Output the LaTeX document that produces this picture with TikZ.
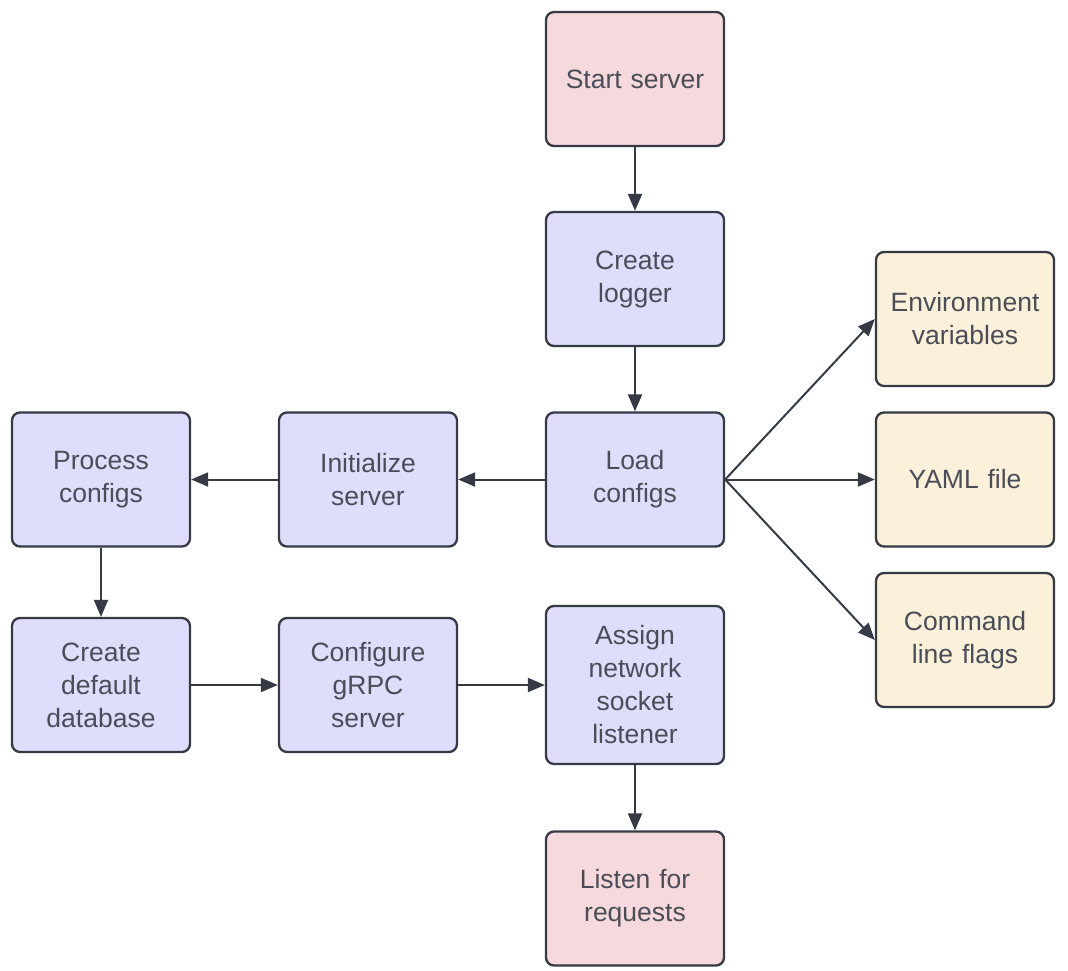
\documentclass[tikz,border=0pt]{standalone}
\usepackage{fontspec}
\setmainfont{Liberation Sans}
\usetikzlibrary{arrows.meta}
\definecolor{pinkfill}{HTML}{F6D9DC}
\definecolor{bluefill}{HTML}{DEDEFC}
\definecolor{yellowfill}{HTML}{FBF1DA}
\definecolor{edge}{HTML}{363A45}
\definecolor{txt}{HTML}{4A4D57}
\tikzset{
  box/.style={draw=edge, line width=2.3pt, rounded corners=8pt, minimum width=178pt, minimum height=134pt,
    text width=170pt, align=center, text=txt, font=\fontsize{26.5}{33}\selectfont, inner sep=0pt},
  pinkbox/.style={box, fill=pinkfill},
  bluebox/.style={box, fill=bluefill},
  yellowbox/.style={box, fill=yellowfill},
  conn/.style={draw=edge, line width=2pt, -{Triangle[length=17pt, width=14pt]}}
}
\begin{document}
\begin{tikzpicture}[x=1pt,y=-1pt]
\useasboundingbox (0,0) rectangle (1068,970);
\node[pinkbox] (start) at (635,79) {Start server};
\node[bluebox] (logger) at (635,279) {Create\\logger};
\node[bluebox] (load) at (635,479.5) {Load\\configs};
\node[bluebox] (init) at (368,479.5) {Initialize\\server};
\node[bluebox] (proc) at (101,479.5) {Process\\configs};
\node[bluebox] (db) at (101,685) {Create\\default\\database};
\node[bluebox] (grpc) at (368,685) {Configure\\gRPC\\server};
\node[bluebox, minimum height=158pt] (assign) at (635,685) {Assign\\network\\socket\\listener};
\node[pinkbox] (listen) at (635,898.5) {Listen for\\requests};
\node[yellowbox] (env) at (965,319) {Environment\\variables};
\node[yellowbox] (yaml) at (965,479.5) {YAML file};
\node[yellowbox] (flags) at (965,640) {Command\\line flags};
\draw[conn] (start) -- (logger);
\draw[conn] (logger) -- (load);
\draw[conn] (load) -- (init);
\draw[conn] (init) -- (proc);
\draw[conn] (proc) -- (db);
\draw[conn] (db) -- (grpc);
\draw[conn] (grpc) -- (assign);
\draw[conn] (assign) -- (listen);
\draw[conn] (load.east) -- (env.west);
\draw[conn] (load.east) -- (yaml.west);
\draw[conn] (load.east) -- (flags.west);
\end{tikzpicture}
\end{document}
